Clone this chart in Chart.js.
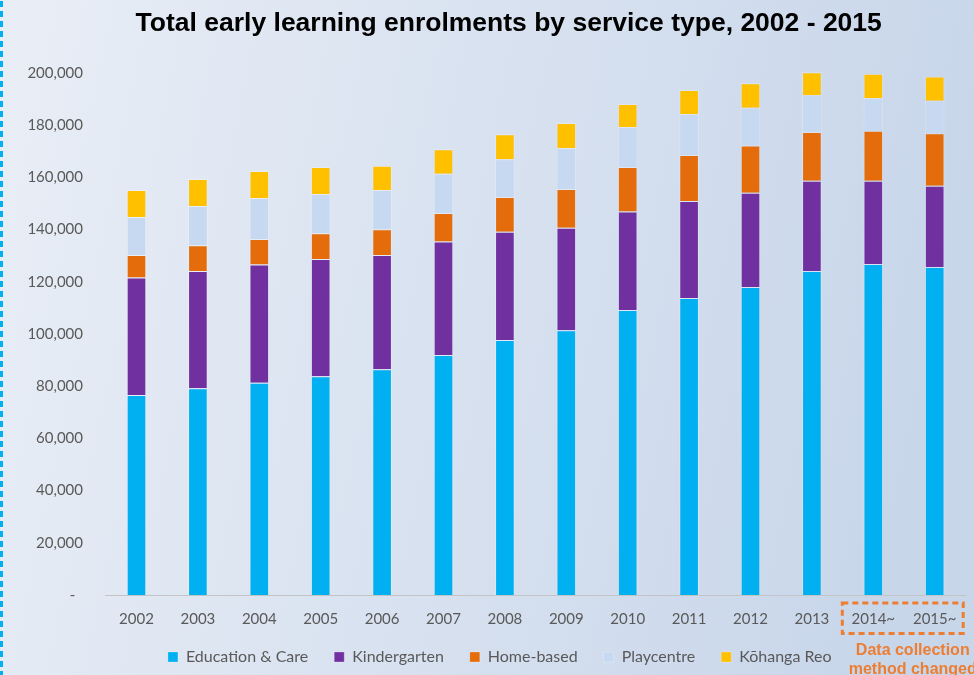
<!DOCTYPE html>
<html>
<head>
<meta charset="utf-8">
<title>Total early learning enrolments by service type, 2002 - 2015</title>
<script src="https://cdn.jsdelivr.net/npm/chart.js@4"></script>
<style>
  html, body { margin: 0; padding: 0; background: #e4eaf3; }
  canvas { display: block; }
</style>
</head>
<body>
<canvas id="enrolChart" width="974" height="675"></canvas>
<script>
// enrolments per year, split by service type
const years = ['2002', '2003', '2004', '2005', '2006', '2007', '2008', '2009',
  '2010', '2011', '2012', '2013', '2014~', '2015~'];
const educationCare = [76600, 79200, 81300, 83800, 86500, 92000, 97700, 101400,
  109200, 113800, 118000, 124100, 126800, 125700];
const kindergarten = [45000, 44900, 45300, 44900, 43800, 43400, 41500, 39300,
  37700, 37200, 36100, 34600, 31900, 31100];
const homeBased = [8700, 9900, 9800, 9900, 9800, 11000, 13300, 14900,
  17100, 17600, 18100, 18700, 19200, 20100];
const playcentre = [14500, 15000, 15700, 15000, 15100, 15000, 14500, 15700,
  15300, 15700, 14500, 14100, 12500, 12500];
const kohangaReo = [10400, 10400, 10400, 10400, 9300, 9400, 9500, 9500,
  8800, 9200, 9400, 8800, 9300, 9300];

const grey = '#595959';
Chart.defaults.font.family = 'Lato, "Open Sans", sans-serif';
Chart.defaults.color = grey;

// page background and the dotted rule down the left edge
const backdrop = {
  id: 'backdrop',
  beforeDraw(chart) {
    const { ctx, width, height } = chart;
    ctx.save();
    const g = ctx.createLinearGradient(0, 0, width, height * 0.3);
    g.addColorStop(0, '#e9eef6');
    g.addColorStop(1, '#c8d6ea');
    ctx.fillStyle = g;
    ctx.fillRect(0, 0, width, height);
    ctx.strokeStyle = '#00b0f0';
    ctx.lineWidth = 3;
    ctx.setLineDash([6, 4]);
    ctx.beginPath();
    ctx.moveTo(1.5, 1);
    ctx.lineTo(1.5, height);
    ctx.stroke();
    ctx.restore();
  }
};

// title and legend sit a little right of the canvas centre;
// the x axis box is stretched so its labels are not cut off
const nudge = {
  id: 'nudge',
  afterLayout(chart) {
    const t = chart.titleBlock, l = chart.legend, x = chart.scales.x;
    if (t) { t.left += 26; t.right += 26; }
    if (l) { l.left += 17; l.right += 17; }
    x.bottom += 10;
    x.height += 10;
  }
};

// dashed box around the last two years + note underneath
const methodNote = {
  id: 'methodNote',
  afterDraw(chart) {
    const { ctx, chartArea, scales: { x } } = chart;
    const left = x.getPixelForValue(12) - 31;
    const right = x.getPixelForValue(13) + 28.5;
    const top = chartArea.bottom + 8;
    const bottom = chartArea.bottom + 38.5;
    ctx.save();
    ctx.strokeStyle = '#ed7d31';
    ctx.lineWidth = 3;
    ctx.setLineDash([6, 4]);
    ctx.strokeRect(left, top, right - left, bottom - top);
    ctx.setLineDash([]);
    ctx.fillStyle = '#ed7d31';
    ctx.font = 'bold 16px "Liberation Sans", Arial, sans-serif';
    ctx.textAlign = 'center';
    ctx.textBaseline = 'middle';
    const cx = (left + right) / 2 + 10;
    ctx.fillText('Data collection', cx, chartArea.bottom + 56);
    ctx.fillText('method changed', cx, chartArea.bottom + 75);
    ctx.restore();
  }
};

function series(label, data, color) {
  return {
    label,
    data,
    backgroundColor: color,
    borderColor: 'rgba(255,255,255,0.25)',
    borderWidth: 1,
    clip: false
  };
}

new Chart(document.getElementById('enrolChart'), {
  type: 'bar',
  data: {
    labels: years,
    datasets: [
      series('Education & Care', educationCare, '#00b0f0'),
      series('Kindergarten', kindergarten, '#7030a0'),
      series('Home-based', homeBased, '#e46c0a'),
      series('Playcentre', playcentre, '#c6d9f1'),
      series('K\u014dhanga Reo', kohangaReo, '#ffc000')
    ]
  },
  options: {
    responsive: false,
    animation: false,
    devicePixelRatio: 1,
    barPercentage: 0.32,
    categoryPercentage: 1,
    layout: { padding: { left: 0, right: 8.6, top: 0, bottom: 0 } },
    plugins: {
      tooltip: { enabled: false },
      title: {
        display: true,
        text: 'Total early learning enrolments by service type, 2002 - 2015',
        color: '#000',
        font: { family: '"Liberation Sans", Arial, sans-serif', size: 26.5, weight: 'bold' },
        padding: { top: 8, bottom: 33.2 }
      },
      legend: {
        position: 'bottom',
        labels: {
          boxWidth: 10,
          boxHeight: 10,
          padding: 26,
          color: grey,
          font: { size: 16 }
        }
      }
    },
    scales: {
      x: {
        stacked: true,
        grid: { display: false, drawTicks: false },
        border: { display: true, color: '#c4c4c4', width: 1 },
        ticks: { color: grey, font: { size: 15 }, padding: 15, maxRotation: 0 },
        afterFit(scale) { scale.height = 28; }
      },
      y: {
        stacked: true,
        min: 0,
        max: 200000,
        grid: { display: false, drawTicks: false },
        border: { display: false },
        ticks: {
          stepSize: 20000,
          color: grey,
          font: { size: 15 },
          padding: 22.8,
          callback: v => v === 0 ? '-  ' : v.toLocaleString('en-US')
        },
        afterFit(scale) { scale.width = 105.8; }
      }
    }
  },
  plugins: [backdrop, nudge, methodNote]
});
</script>
</body>
</html>
